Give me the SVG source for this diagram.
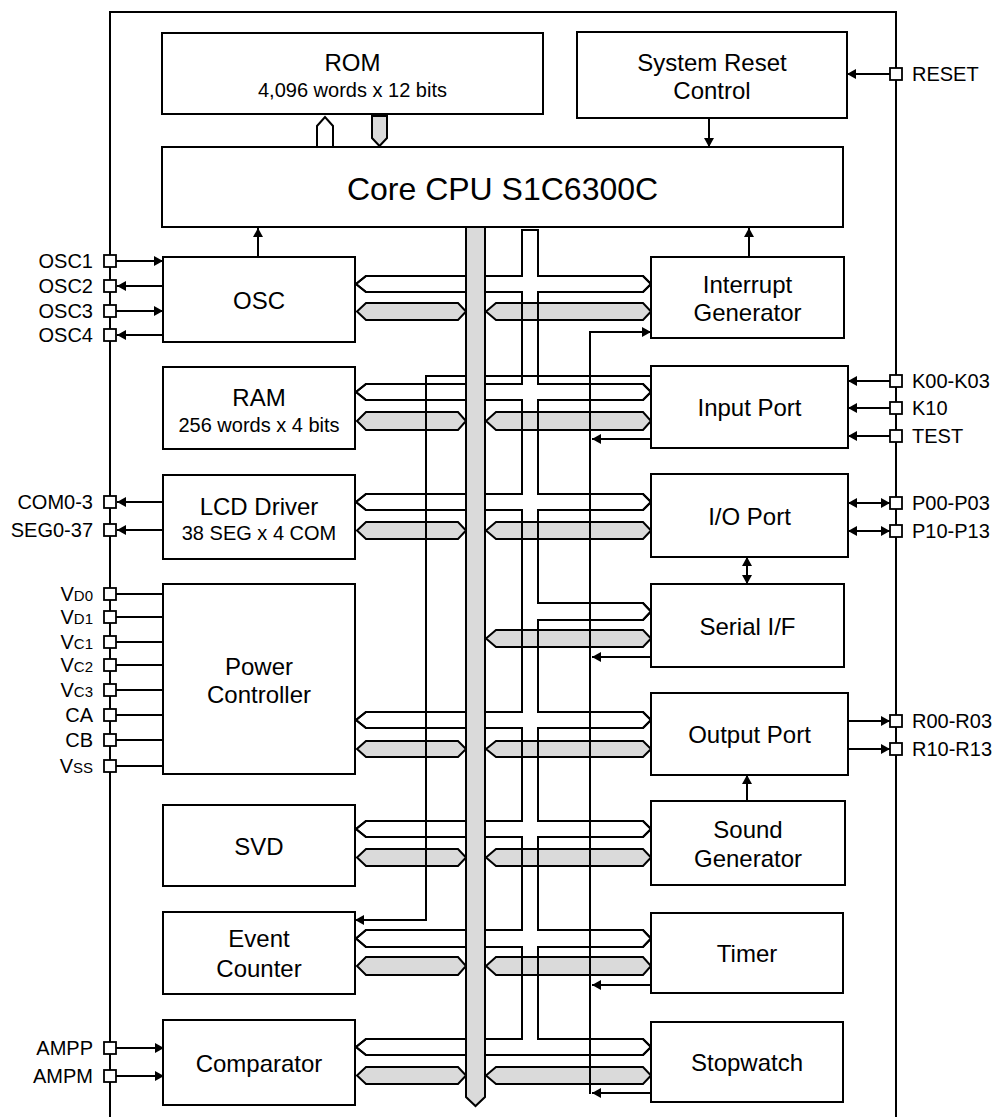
<svg xmlns="http://www.w3.org/2000/svg" width="995" height="1117" viewBox="0 0 995 1117">
<style>
.box{fill:#fff;stroke:#000;stroke-width:2}
.t{font-family:"Liberation Sans",Arial,sans-serif;font-size:24px;text-anchor:middle;fill:#000}
.s{font-size:20px}
.pl{font-family:"Liberation Sans",Arial,sans-serif;font-size:20px;fill:#000}
.pe{text-anchor:end}
.pin{fill:#fff;stroke:#000;stroke-width:1.8}
.ln{fill:none;stroke:#000;stroke-width:2}
.ar{marker-end:url(#ah)}
.ab{marker-start:url(#ah);marker-end:url(#ah)}
.gb{fill:#dadada;stroke:#000;stroke-width:2}
.wb{fill:#fff;stroke:#000;stroke-width:2}
.wo{fill:none;stroke:#000;stroke-width:2}
</style>
<defs>
<marker id="ah" viewBox="0 0 9 10" refX="9" refY="5" markerWidth="9" markerHeight="10" markerUnits="userSpaceOnUse" orient="auto-start-reverse"><path d="M0,0 L9,5 L0,10 z" fill="#000"/></marker>
</defs>
<rect width="995" height="1117" fill="#fff"/>
<path class="ln" d="M110,1117 V12 H896 V1117"/>

<g id="buses">
<path id="addr-bus-fill" class="wb" d="M522,230 V276 H366 L356,284 L366,292 H522 V384 H366 L356,392 L366,400 H522 V494 H366 L356,502 L366,510 H522 V712 H366 L356,720 L366,728 H522 V821 H366 L356,829 L366,837 H522 V930 H366 L356,938.5 L366,947 H522 V1039 H366 L356,1047 L366,1055 H643 L651,1047 L643,1039 H538 V947 H643 L651,938.5 L643,930 H538 V837 H643 L651,829 L643,821 H538 V728 H643 L651,720 L643,712 H538 V620 H643 L651,611.5 L643,603 H538 V510 H643 L651,502 L643,494 H538 V400 H643 L651,392 L643,384 H538 V292 H643 L651,284 L643,276 H538 V230 Z"/>
<g id="data-segments">
<path class="gb" d="M357,311.5 L366,303 H458 L466,311.5 L458,320 H366 Z"/>
<path class="gb" d="M486,311.5 L496,303 H643 L651,311.5 L643,320 H496 Z"/>
<path class="gb" d="M357,421 L366,412 H458 L466,421 L458,430 H366 Z"/>
<path class="gb" d="M486,421 L496,412 H643 L651,421 L643,430 H496 Z"/>
<path class="gb" d="M357,530.5 L366,522 H458 L466,530.5 L458,539 H366 Z"/>
<path class="gb" d="M486,530.5 L496,522 H643 L651,530.5 L643,539 H496 Z"/>
<path class="gb" d="M486,638.5 L496,630 H643 L651,638.5 L643,647 H496 Z"/>
<path class="gb" d="M357,749 L366,741 H458 L466,749 L458,757 H366 Z"/>
<path class="gb" d="M486,749 L496,741 H643 L651,749 L643,757 H496 Z"/>
<path class="gb" d="M357,857.5 L366,849 H458 L466,857.5 L458,866 H366 Z"/>
<path class="gb" d="M486,857.5 L496,849 H643 L651,857.5 L643,866 H496 Z"/>
<path class="gb" d="M357,966 L366,957 H458 L466,966 L458,975 H366 Z"/>
<path class="gb" d="M486,966 L496,957 H643 L651,966 L643,975 H496 Z"/>
<path class="gb" d="M357,1075.5 L366,1067 H458 L466,1075.5 L458,1084 H366 Z"/>
<path class="gb" d="M486,1075.5 L496,1067 H643 L651,1075.5 L643,1084 H496 Z"/>
</g>
<path id="addr-bus-outline" class="wo" d="M522,230 V276 H366 L356,284 L366,292 H522 V384 H366 L356,392 L366,400 H522 V494 H366 L356,502 L366,510 H522 V712 H366 L356,720 L366,728 H522 V821 H366 L356,829 L366,837 H522 V930 H366 L356,938.5 L366,947 H522 V1039 H366 L356,1047 L366,1055 H643 L651,1047 L643,1039 H538 V947 H643 L651,938.5 L643,930 H538 V837 H643 L651,829 L643,821 H538 V728 H643 L651,720 L643,712 H538 V620 H643 L651,611.5 L643,603 H538 V510 H643 L651,502 L643,494 H538 V400 H643 L651,392 L643,384 H538 V292 H643 L651,284 L643,276 H538 V230 Z"/>
</g>

<g id="connectors">
<path class="ln ar" d="M116,261 H163"/>
<path class="ln ar" d="M163,286 H117"/>
<path class="ln ar" d="M116,311 H163"/>
<path class="ln ar" d="M163,335 H117"/>
<path class="ln ar" d="M163,502 H117"/>
<path class="ln ar" d="M163,530 H117"/>
<path class="ln" d="M116,594 H163 M116,617 H163 M116,642 H163 M116,665 H163 M116,690 H163 M116,715 H163 M116,740 H163 M116,766 H163"/>
<path class="ln ar" d="M116,1048 H164"/>
<path class="ln ar" d="M116,1076 H164"/>
<path class="ln ar" d="M890,74 H847"/>
<path class="ln ar" d="M890,381 H848"/>
<path class="ln ar" d="M890,408 H848"/>
<path class="ln ar" d="M890,436 H848"/>
<path class="ln ab" d="M848,503 H890"/>
<path class="ln ab" d="M848,531 H890"/>
<path class="ln ar" d="M848,721 H890"/>
<path class="ln ar" d="M848,749 H890"/>
<path class="ln ar" d="M709,118 V147"/>
<path class="ln ar" d="M258,257 V228"/>
<path class="ln ar" d="M749,257 V228"/>
<path class="ln ab" d="M747,557 V584"/>
<path class="ln ar" d="M747,801 V775"/>
<path class="ln ar" d="M651,376 H426 V920 H355"/>
<path class="ln" style="marker-start:url(#ah)" d="M651,332 H590 V1094"/>
<path class="ln ar" d="M651,439 H592"/>
<path class="ln ar" d="M651,657 H592"/>
<path class="ln ar" d="M651,985 H592"/>
<path class="ln ar" d="M651,1093 H592"/>
<path class="wb" d="M317,147 V126 L325,117 L333,126 V147"/>
<path class="gb" d="M372,116 H387 V138 L379.5,146 L372,138 Z"/>
<path id="data-bus" class="gb" d="M466,227 H485 V1097 L475.5,1106 L466,1097 Z"/>
</g>

<g id="rom"><rect class="box" x="162" y="33" width="381" height="81"/><text class="t" x="352.5" y="71">ROM</text><text class="t s" x="352.5" y="97">4,096 words x 12 bits</text></g>
<g id="reset-ctrl"><rect class="box" x="577" y="32" width="270" height="86"/><text class="t" x="712" y="71">System Reset</text><text class="t" x="712" y="99">Control</text></g>
<g id="cpu"><rect class="box" x="162" y="147" width="681" height="80"/><text class="t" x="502.5" y="200" style="font-size:32px">Core CPU S1C6300C</text></g>
<g id="osc"><rect class="box" x="163" y="257" width="192" height="85"/><text class="t" x="259" y="309">OSC</text></g>
<g id="ram"><rect class="box" x="163" y="367" width="192" height="82"/><text class="t" x="259" y="405.5">RAM</text><text class="t s" x="259" y="432">256 words x 4 bits</text></g>
<g id="lcd"><rect class="box" x="163" y="475" width="192" height="84"/><text class="t" x="259" y="515">LCD Driver</text><text class="t s" x="259" y="540">38 SEG x 4 COM</text></g>
<g id="power"><rect class="box" x="163" y="584" width="192" height="190"/><text class="t" x="259" y="675">Power</text><text class="t" x="259" y="703">Controller</text></g>
<g id="svd"><rect class="box" x="163" y="805" width="192" height="81"/><text class="t" x="259" y="855">SVD</text></g>
<g id="event-counter"><rect class="box" x="163" y="912" width="192" height="82"/><text class="t" x="259" y="947">Event</text><text class="t" x="259" y="977">Counter</text></g>
<g id="comparator"><rect class="box" x="163" y="1020" width="192" height="85"/><text class="t" x="259" y="1072">Comparator</text></g>
<g id="interrupt"><rect class="box" x="651" y="257" width="193" height="81"/><text class="t" x="747.5" y="292.5">Interrupt</text><text class="t" x="747.5" y="321">Generator</text></g>
<g id="input-port"><rect class="box" x="651" y="366" width="197" height="82"/><text class="t" x="749.5" y="416">Input Port</text></g>
<g id="io-port"><rect class="box" x="651" y="474" width="197" height="83"/><text class="t" x="749.5" y="525">I/O Port</text></g>
<g id="serial"><rect class="box" x="651" y="584" width="193" height="83"/><text class="t" x="747.5" y="635">Serial I/F</text></g>
<g id="output-port"><rect class="box" x="651" y="693" width="197" height="82"/><text class="t" x="749.5" y="743">Output Port</text></g>
<g id="sound"><rect class="box" x="651" y="801" width="194" height="84"/><text class="t" x="748" y="838">Sound</text><text class="t" x="748" y="867">Generator</text></g>
<g id="timer"><rect class="box" x="651" y="913" width="192" height="80"/><text class="t" x="747" y="962">Timer</text></g>
<g id="stopwatch"><rect class="box" x="651" y="1022" width="192" height="80"/><text class="t" x="747" y="1071">Stopwatch</text></g>

<g id="pins-left">
<g id="pin-osc1"><rect class="pin" x="104" y="255" width="12" height="12"/><text class="pl pe" x="93" y="268">OSC1</text></g>
<g id="pin-osc2"><rect class="pin" x="104" y="280" width="12" height="12"/><text class="pl pe" x="93" y="293">OSC2</text></g>
<g id="pin-osc3"><rect class="pin" x="104" y="305" width="12" height="12"/><text class="pl pe" x="93" y="318">OSC3</text></g>
<g id="pin-osc4"><rect class="pin" x="104" y="329" width="12" height="12"/><text class="pl pe" x="93" y="342">OSC4</text></g>
<g id="pin-com"><rect class="pin" x="104" y="496" width="12" height="12"/><text class="pl pe" x="93" y="509">COM0-3</text></g>
<g id="pin-seg"><rect class="pin" x="104" y="524" width="12" height="12"/><text class="pl pe" x="93" y="537">SEG0-37</text></g>
<g id="pin-vd0"><rect class="pin" x="104" y="588" width="12" height="12"/><text class="pl pe" x="93" y="601">V<tspan font-size="15">D0</tspan></text></g>
<g id="pin-vd1"><rect class="pin" x="104" y="611" width="12" height="12"/><text class="pl pe" x="93" y="624">V<tspan font-size="15">D1</tspan></text></g>
<g id="pin-vc1"><rect class="pin" x="104" y="636" width="12" height="12"/><text class="pl pe" x="93" y="649">V<tspan font-size="15">C1</tspan></text></g>
<g id="pin-vc2"><rect class="pin" x="104" y="659" width="12" height="12"/><text class="pl pe" x="93" y="672">V<tspan font-size="15">C2</tspan></text></g>
<g id="pin-vc3"><rect class="pin" x="104" y="684" width="12" height="12"/><text class="pl pe" x="93" y="697">V<tspan font-size="15">C3</tspan></text></g>
<g id="pin-ca"><rect class="pin" x="104" y="709" width="12" height="12"/><text class="pl pe" x="93" y="722">CA</text></g>
<g id="pin-cb"><rect class="pin" x="104" y="734" width="12" height="12"/><text class="pl pe" x="93" y="747">CB</text></g>
<g id="pin-vss"><rect class="pin" x="104" y="760" width="12" height="12"/><text class="pl pe" x="93" y="773">V<tspan font-size="15">SS</tspan></text></g>
<g id="pin-ampp"><rect class="pin" x="104" y="1042" width="12" height="12"/><text class="pl pe" x="93" y="1055">AMPP</text></g>
<g id="pin-ampm"><rect class="pin" x="104" y="1070" width="12" height="12"/><text class="pl pe" x="93" y="1083">AMPM</text></g>
</g>
<g id="pins-right">
<g id="pin-reset"><rect class="pin" x="890" y="68" width="12" height="12"/><text class="pl" x="912" y="81">RESET</text></g>
<g id="pin-k00"><rect class="pin" x="890" y="375" width="12" height="12"/><text class="pl" x="912" y="388">K00-K03</text></g>
<g id="pin-k10"><rect class="pin" x="890" y="402" width="12" height="12"/><text class="pl" x="912" y="415">K10</text></g>
<g id="pin-test"><rect class="pin" x="890" y="430" width="12" height="12"/><text class="pl" x="912" y="443">TEST</text></g>
<g id="pin-p00"><rect class="pin" x="890" y="497" width="12" height="12"/><text class="pl" x="912" y="510">P00-P03</text></g>
<g id="pin-p10"><rect class="pin" x="890" y="525" width="12" height="12"/><text class="pl" x="912" y="538">P10-P13</text></g>
<g id="pin-r00"><rect class="pin" x="890" y="715" width="12" height="12"/><text class="pl" x="912" y="728">R00-R03</text></g>
<g id="pin-r10"><rect class="pin" x="890" y="743" width="12" height="12"/><text class="pl" x="912" y="756">R10-R13</text></g>
</g>
</svg>
